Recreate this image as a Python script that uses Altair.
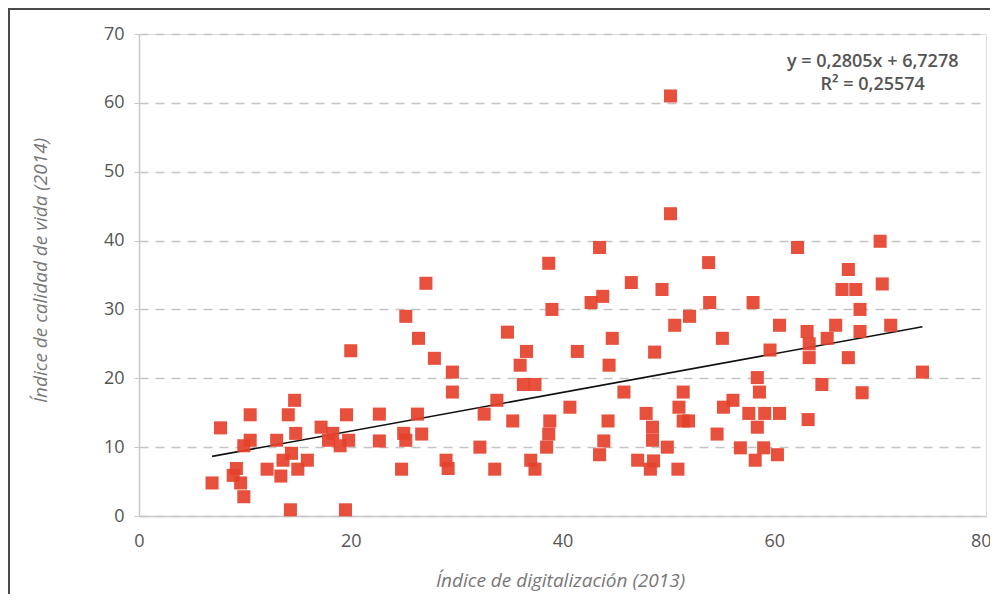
import altair as alt
import pandas as pd

digitalizacion = [
    20.0, 14.7, 10.5, 14.1, 19.6, 7.7, 10.5, 9.9, 13.0, 14.8, 17.2, 18.3, 17.9, 19.0, 19.8,
    14.4, 13.6, 15.9, 9.2, 8.9, 12.1, 13.4, 15.0, 9.6, 6.9, 9.9, 14.3, 19.5,
    38.7, 27.1, 39.0, 25.2, 34.8, 26.4, 36.6, 41.4, 27.9, 36.0, 29.6, 36.3, 37.4, 29.6, 33.8,
    40.7, 22.7, 26.3, 32.6, 35.3, 38.8, 25.0, 26.7, 25.2, 22.7, 38.7, 38.5, 32.2, 29.0, 29.2,
    37.0, 37.4, 24.8, 33.6,
    50.2, 50.2, 43.5, 53.8, 46.5, 49.4, 42.7, 43.8, 53.9, 58.0, 52.0, 50.6, 60.5, 44.7, 55.1,
    48.7, 59.6, 44.4, 58.4, 58.6, 45.8, 51.4, 51.0, 56.1, 55.2, 47.9, 57.6, 59.1, 60.5, 44.3,
    51.4, 51.9, 48.5, 58.4, 43.9, 48.5, 54.6, 49.9, 56.8, 59.0, 43.5, 60.3, 47.1, 48.6, 58.2,
    48.3, 50.9,
    70.0, 62.2, 67.0, 70.2, 66.4, 67.7, 68.1, 65.8, 71.0, 63.1, 68.1, 65.0, 63.3, 63.3, 67.0,
    74.0, 64.5, 68.3, 63.2,
]
calidad = [
    24.0, 16.8, 14.7, 14.7, 14.7, 12.8, 11.0, 10.2, 11.0, 12.0, 12.9, 12.0, 11.0, 10.2, 11.0,
    9.1, 8.1, 8.1, 6.9, 5.9, 6.8, 5.8, 6.8, 4.8, 4.8, 2.8, 0.9, 0.9,
    36.7, 33.8, 30.0, 29.0, 26.7, 25.8, 23.9, 23.9, 22.9, 21.9, 20.9, 19.1, 19.1, 18.0, 16.8,
    15.8, 14.8, 14.8, 14.8, 13.8, 13.8, 12.0, 11.9, 11.0, 10.9, 11.9, 10.0, 10.0, 8.1, 6.9,
    8.1, 6.8, 6.8, 6.8,
    61.0, 43.9, 39.0, 36.8, 33.9, 32.9, 31.0, 31.9, 31.0, 31.0, 29.0, 27.7, 27.7, 25.8, 25.8,
    23.8, 24.1, 21.9, 20.1, 18.0, 18.0, 18.0, 15.8, 16.8, 15.8, 14.9, 14.9, 14.9, 14.9, 13.8,
    13.8, 13.8, 12.9, 12.9, 10.9, 11.0, 11.9, 10.0, 9.9, 9.9, 8.9, 8.9, 8.1, 8.0, 8.1,
    6.8, 6.8,
    39.9, 39.0, 35.8, 33.7, 32.9, 32.9, 30.0, 27.7, 27.7, 26.8, 26.8, 25.8, 25.0, 23.0, 23.0,
    20.9, 19.1, 17.9, 14.0,
]

slope = 0.2805
intercept = 6.7278
ecuacion = "y = 0,2805x + 6,7278"
r2_texto = "R² = 0,25574"

x_ticks = [0, 20, 40, 60, 80]
y_ticks = [0, 10, 20, 30, 40, 50, 60, 70]

df = pd.DataFrame({"x": digitalizacion, "y": calidad})
xmin, xmax = min(digitalizacion), max(digitalizacion)
trend = pd.DataFrame({"x": [xmin, xmax],
                      "y": [slope * xmin + intercept, slope * xmax + intercept]})
ann = pd.DataFrame({"x": [69.3, 69.3], "y": [65.95, 62.65], "t": [ecuacion, r2_texto]})

W, H = 847, 482
FONT = "Open Sans"

xscale = alt.Scale(domain=[0, 80], nice=False)
yscale = alt.Scale(domain=[0, 70], nice=False)

points = alt.Chart(df).mark_square(size=170, color="#e5412b", opacity=0.92).encode(
    x=alt.X("x:Q", scale=xscale,
            axis=alt.Axis(values=x_ticks, title="Índice de digitalización (2013)",
                          grid=False, ticks=False, labelPadding=16, labelFlush=False,
                          labelAlign={"expr": "datum.value == 80 ? 'right' : 'center'"},
                          labelOffset={"expr": "datum.value == 80 ? 5 : 0"},
                          labelFontSize=18, labelColor="#555555", labelFont=FONT,
                          domainColor="#c8c8c8", domainWidth=1.5,
                          titleFont=FONT, titleFontSize=19, titleFontStyle="italic",
                          titleFontWeight="normal", titleColor="#777777",
                          titleX=421, titleY=64, titleBaseline="middle", titleAlign="center")),
    y=alt.Y("y:Q", scale=yscale,
            axis=alt.Axis(values=y_ticks, title="Índice de calidad de vida (2014)",
                          grid=True, gridDash=[9, 7], gridColor="#c4c4c4", gridWidth=1.3,
                          ticks=True, tickSize=5, tickColor="#c8c8c8",
                          labelPadding=10, labelFontSize=18, labelColor="#555555",
                          labelFont=FONT, domainColor="#c8c8c8", domainWidth=1.5,
                          titleFont=FONT, titleFontSize=19, titleFontStyle="italic",
                          titleFontWeight="normal", titleColor="#777777",
                          titleAngle=-90, titleX=-99, titleY=236,
                          titleBaseline="middle", titleAlign="center")),
)

line = alt.Chart(trend).mark_line(color="#111111", strokeWidth=1.6).encode(
    x=alt.X("x:Q", scale=xscale), y=alt.Y("y:Q", scale=yscale))

text = alt.Chart(ann).mark_text(font=FONT, fontSize=18, fontWeight=600,
                                color="#555555", align="center", baseline="middle").encode(
    x=alt.X("x:Q", scale=xscale), y=alt.Y("y:Q", scale=yscale), text="t:N")

frame_top = alt.Chart(pd.DataFrame({"a": [0]})).mark_rule(color="#4a4a4a", strokeWidth=2).encode(
    x=alt.value(-131), x2=alt.value(W + 20), y=alt.value(-25))
frame_left = alt.Chart(pd.DataFrame({"a": [0]})).mark_rule(color="#4a4a4a", strokeWidth=2).encode(
    x=alt.value(-130), y=alt.value(-26), y2=alt.value(H + 100))

chart = alt.layer(frame_top, frame_left, line, points, text).properties(
    width=W, height=H,
    autosize=alt.AutoSizeParams(type="none"),
    padding={"left": 131, "top": 26, "right": 4, "bottom": 78},
).configure_view(stroke="#c8c8c8", strokeWidth=1.5).configure(background="white")

chart.save("out.html", embed_options={"renderer": "svg", "actions": False})
